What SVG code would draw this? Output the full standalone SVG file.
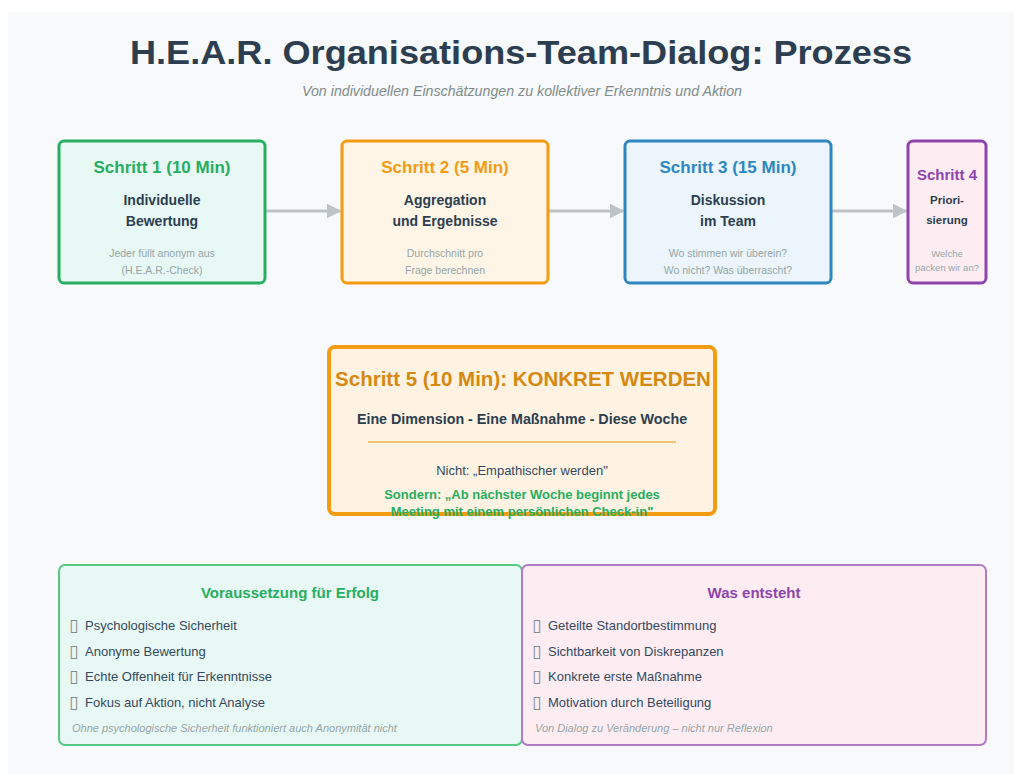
<svg xmlns="http://www.w3.org/2000/svg" width="1022" height="774" viewBox="0 0 1022 774">
  <defs>
    <marker id="arrow" viewBox="0 0 10 10" refX="9" refY="5" markerWidth="5" markerHeight="5" orient="auto" markerUnits="strokeWidth">
      <path d="M0,0 L10,5 L0,10 z" fill="#bdc3c7"/>
    </marker>
  </defs>
  <style>
    text { font-family: "Liberation Sans", Arial, sans-serif; }
    .title { font-size: 34px; font-weight: bold; fill: #2c3e50; }
    .subtitle { font-size: 14px; font-style: italic; fill: #7f8c8d; }
    .step-head { font-size: 17px; font-weight: bold; }
    .step-main { font-size: 14px; font-weight: bold; fill: #2c3e50; }
    .step-note { font-size: 10.5px; fill: #95a5a6; }
    .item { font-size: 13px; fill: #34495e; }
    .bullet { font-family: "DejaVu Sans", sans-serif; font-size: 17px; fill: #7f8c8d; }
    .foot { font-size: 11px; font-style: italic; fill: #95a5a6; }
    .conn { stroke: #bdc3c7; stroke-width: 3; fill: none; }
  </style>

  <!-- page background -->
  <rect x="0" y="0" width="1022" height="774" fill="#ffffff"/>
  <rect x="8" y="12" width="1006" height="762" fill="#f8f9fa"/>

  <!-- heading -->
  <text class="title" x="521" y="64" text-anchor="middle" textLength="782" lengthAdjust="spacingAndGlyphs">H.E.A.R. Organisations-Team-Dialog: Prozess</text>
  <text class="subtitle" x="522" y="96" text-anchor="middle" textLength="440" lengthAdjust="spacingAndGlyphs">Von individuellen Einschätzungen zu kollektiver Erkenntnis und Aktion</text>

  <!-- connectors -->
  <g id="connectors">
    <line class="conn" x1="265" y1="211" x2="340" y2="211" marker-end="url(#arrow)"/>
    <line class="conn" x1="548" y1="211" x2="623" y2="211" marker-end="url(#arrow)"/>
    <line class="conn" x1="831" y1="211" x2="906" y2="211" marker-end="url(#arrow)"/>
  </g>

  <!-- step 1 -->
  <g id="step1">
    <rect x="59" y="141" width="206" height="142" rx="5" fill="#e8f8f5" stroke="#27ae60" stroke-width="3"/>
    <text class="step-head" x="162" y="173" text-anchor="middle" fill="#27ae60">Schritt 1 (10 Min)</text>
    <text class="step-main" x="162" y="205" text-anchor="middle">Individuelle</text>
    <text class="step-main" x="162" y="226" text-anchor="middle">Bewertung</text>
    <text class="step-note" x="162" y="257" text-anchor="middle">Jeder füllt anonym aus</text>
    <text class="step-note" x="162" y="274" text-anchor="middle">(H.E.A.R.-Check)</text>
  </g>

  <!-- step 2 -->
  <g id="step2">
    <rect x="342" y="141" width="206" height="142" rx="5" fill="#fef5e7" stroke="#f39c12" stroke-width="3"/>
    <text class="step-head" x="445" y="173" text-anchor="middle" fill="#f39c12">Schritt 2 (5 Min)</text>
    <text class="step-main" x="445" y="205" text-anchor="middle">Aggregation</text>
    <text class="step-main" x="445" y="226" text-anchor="middle">und Ergebnisse</text>
    <text class="step-note" x="445" y="257" text-anchor="middle">Durchschnitt pro</text>
    <text class="step-note" x="445" y="274" text-anchor="middle">Frage berechnen</text>
  </g>

  <!-- step 3 -->
  <g id="step3">
    <rect x="625" y="141" width="206" height="142" rx="5" fill="#ebf5fb" stroke="#2e86c1" stroke-width="3"/>
    <text class="step-head" x="728" y="173" text-anchor="middle" fill="#2e86c1">Schritt 3 (15 Min)</text>
    <text class="step-main" x="728" y="205" text-anchor="middle">Diskussion</text>
    <text class="step-main" x="728" y="226" text-anchor="middle">im Team</text>
    <text class="step-note" x="728" y="257" text-anchor="middle">Wo stimmen wir überein?</text>
    <text class="step-note" x="728" y="274" text-anchor="middle">Wo nicht? Was überrascht?</text>
  </g>

  <!-- step 4 -->
  <g id="step4">
    <rect x="908" y="141" width="78" height="142" rx="5" fill="#fdedf3" stroke="#8e44ad" stroke-width="3"/>
    <text x="947" y="180" text-anchor="middle" font-size="15" font-weight="bold" fill="#8e44ad">Schritt 4</text>
    <text x="947" y="204" text-anchor="middle" font-size="11.5" font-weight="bold" fill="#2c3e50">Priori-</text>
    <text x="947" y="224" text-anchor="middle" font-size="11.5" font-weight="bold" fill="#2c3e50">sierung</text>
    <text x="947" y="257" text-anchor="middle" font-size="9.5" fill="#95a5a6">Welche</text>
    <text x="947" y="271" text-anchor="middle" font-size="9.5" fill="#95a5a6">packen wir an?</text>
  </g>

  <!-- step 5 -->
  <g id="step5">
    <rect x="329" y="347" width="386" height="167" rx="6" fill="#fef3e2" stroke="#f39c12" stroke-width="4"/>
    <text x="523" y="386" text-anchor="middle" font-size="20.5" font-weight="bold" fill="#d68910">Schritt 5 (10 Min): KONKRET WERDEN</text>
    <text x="522" y="424" text-anchor="middle" font-size="14.3" font-weight="bold" fill="#2c3e50">Eine Dimension - Eine Maßnahme - Diese Woche</text>
    <line x1="368" y1="442" x2="676" y2="442" stroke="#f8c471" stroke-width="2"/>
    <text x="522" y="475" text-anchor="middle" font-size="13" fill="#34495e">Nicht: „Empathischer werden"</text>
    <text x="522" y="499" text-anchor="middle" font-size="13" font-weight="bold" fill="#27ae60">Sondern: „Ab nächster Woche beginnt jedes</text>
    <text x="522" y="516" text-anchor="middle" font-size="13" font-weight="bold" fill="#27ae60">Meeting mit einem persönlichen Check-in"</text>
  </g>

  <!-- success preconditions -->
  <g id="preconditions">
    <rect x="59" y="565" width="463" height="180" rx="6" fill="#e8f8f5" stroke="#58c985" stroke-width="2"/>
    <text x="290" y="598" text-anchor="middle" font-size="15" font-weight="bold" fill="#27ae60">Voraussetzung für Erfolg</text>
    <text class="bullet" x="69" y="631">▯</text><text class="item" x="85" y="630">Psychologische Sicherheit</text>
    <text class="bullet" x="69" y="657">▯</text><text class="item" x="85" y="656">Anonyme Bewertung</text>
    <text class="bullet" x="69" y="682">▯</text><text class="item" x="85" y="681">Echte Offenheit für Erkenntnisse</text>
    <text class="bullet" x="69" y="708">▯</text><text class="item" x="85" y="707">Fokus auf Aktion, nicht Analyse</text>
    <text class="foot" x="72" y="732">Ohne psychologische Sicherheit funktioniert auch Anonymität nicht</text>
  </g>

  <!-- outcomes -->
  <g id="outcomes">
    <rect x="522" y="565" width="464" height="180" rx="6" fill="#fdedf3" stroke="#b07cc6" stroke-width="2"/>
    <text x="754" y="598" text-anchor="middle" font-size="15" font-weight="bold" fill="#8e44ad">Was entsteht</text>
    <text class="bullet" x="532" y="631">▯</text><text class="item" x="548" y="630">Geteilte Standortbestimmung</text>
    <text class="bullet" x="532" y="657">▯</text><text class="item" x="548" y="656">Sichtbarkeit von Diskrepanzen</text>
    <text class="bullet" x="532" y="682">▯</text><text class="item" x="548" y="681">Konkrete erste Maßnahme</text>
    <text class="bullet" x="532" y="708">▯</text><text class="item" x="548" y="707">Motivation durch Beteiligung</text>
    <text class="foot" x="535" y="732">Von Dialog zu Veränderung – nicht nur Reflexion</text>
  </g>
</svg>
